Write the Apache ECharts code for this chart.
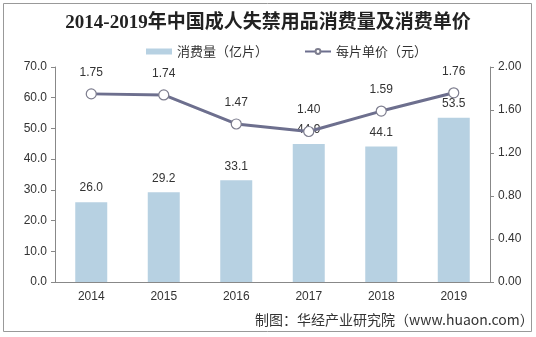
<!DOCTYPE html>
<html><head><meta charset="utf-8">
<script src="https://cdn.jsdelivr.net/npm/echarts@6/dist/echarts.min.js"></script>
<style>html,body{margin:0;padding:0;background:#fff}#c{width:536px;height:337px}</style>
</head><body><div id="c"></div>
<script>
const years = ['2014','2015','2016','2017','2018','2019'];
const volume = [26.0, 29.2, 33.1, 44.9, 44.1, 53.5];
const price = [1.75, 1.74, 1.47, 1.40, 1.59, 1.76];
const leftTicks = {min:0, max:70, interval:10};
const rightTicks = {min:0, max:2, interval:0.4};

const chart = echarts.init(document.getElementById('c'), null, {renderer:'canvas'});
chart.setOption({
  animation:false,
  backgroundColor:'#fff',
  title:{text:'2014-2019年中国成人失禁用品消费量及消费单价', left:'center', top:9,
    textStyle:{fontFamily:"'Liberation Serif','Noto Sans CJK SC'", fontWeight:'bold', fontSize:19, color:'#222'}},
  legend:{top:40, left:141, itemGap:36, itemWidth:26, itemHeight:6,
    textStyle:{fontFamily:"'Noto Sans CJK SC'", fontSize:13, color:'#333'},
    data:[{name:'消费量（亿片）', icon:'rect'}, {name:'每片单价（元）'}]},
  grid:{left:55, right:46, top:67, bottom:55},
  xAxis:{type:'category', data:years, axisTick:{show:false},
    axisLine:{lineStyle:{color:'#888'}},
    axisLabel:{color:'#333', fontSize:12, fontFamily:'Arial, Liberation Sans', margin:9}},
  yAxis:[
    {type:'value', min:leftTicks.min, max:leftTicks.max, interval:leftTicks.interval, splitLine:{show:false},
     axisLine:{show:true, lineStyle:{color:'#888'}}, axisTick:{show:true, length:4, lineStyle:{color:'#888'}},
     axisLabel:{color:'#333', fontSize:12, fontFamily:'Arial, Liberation Sans', formatter:v=>v.toFixed(1), margin:8}},
    {type:'value', min:rightTicks.min, max:rightTicks.max, interval:rightTicks.interval, splitLine:{show:false},
     axisLine:{show:true, lineStyle:{color:'#888'}}, axisTick:{show:true, length:4, lineStyle:{color:'#888'}},
     axisLabel:{color:'#333', fontSize:12, fontFamily:'Arial, Liberation Sans', formatter:v=>v.toFixed(2), margin:8}}
  ],
  series:[
    {name:'消费量（亿片）', type:'bar', data:volume, barWidth:32, itemStyle:{color:'#b7d1e2'},
     label:{show:true, position:'top', distance:8, color:'#333', fontSize:12, fontFamily:'Arial, Liberation Sans', formatter:p=>p.value.toFixed(1)}},
    {name:'每片单价（元）', type:'line', yAxisIndex:1, data:price, symbol:'circle', symbolSize:10,
     lineStyle:{color:'#6d6f8e', width:3}, itemStyle:{color:'#fff', borderColor:'#7d7d8e', borderWidth:1.2},
     label:{show:true, position:'top', distance:10, color:'#333', fontSize:12, fontFamily:'Arial, Liberation Sans', formatter:p=>p.value.toFixed(2)}}
  ],
  graphic:[
    {type:'rect', shape:{x:3.5, y:3.5, width:528, height:328}, style:{fill:null, stroke:'#999', lineWidth:1}, z:-1},
    {type:'text', left:255, top:313, style:{text:'制图：华经产业研究院（www.huaon.com）', fill:'#333', font:"14px 'Noto Sans CJK SC'"}}
  ]
});
</script></body></html>
